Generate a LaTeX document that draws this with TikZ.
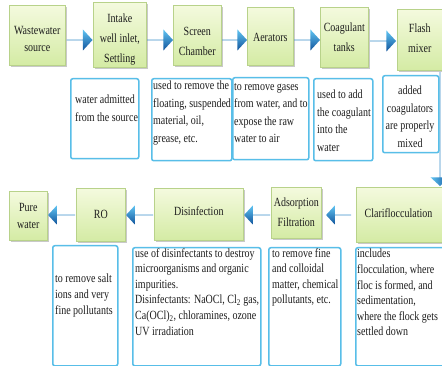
\documentclass[tikz,border=0pt]{standalone}
\usepackage{fontspec}
\setmainfont{Liberation Serif}[FakeStretch=0.8]
\usetikzlibrary{shapes.arrows,shadows}

\definecolor{stagefillA}{RGB}{244,250,222}
\definecolor{stagefillB}{RGB}{212,235,164}
\definecolor{stageline}{RGB}{184,210,138}
\definecolor{notebord}{RGB}{88,190,232}
\definecolor{arrowA}{RGB}{96,196,242}
\definecolor{arrowB}{RGB}{18,84,156}
\definecolor{ink}{RGB}{30,30,30}

\begin{document}
\begin{tikzpicture}[x=1pt,y=-1pt,
  stage/.style={draw=stageline, line width=0.6pt, top color=stagefillA, bottom color=stagefillB,
    drop shadow={shadow xshift=1.2pt, shadow yshift=-1.6pt, opacity=0.35, fill=black!60},
    anchor=north west, inner sep=0pt},
  stagetext/.style={anchor=north, inner sep=0pt, align=center, text=ink,
    font=\fontsize{12.5}{20}\selectfont},
  shortlines/.style={font=\fontsize{12.5}{17}\selectfont},
  note/.style={draw=notebord, line width=1.5pt, rounded corners=2pt, fill=white,
    anchor=north west, inner sep=0pt},
  notetext/.style={anchor=north west, inner sep=0pt, align=left, text=ink},
  toptext/.style={notetext, font=\fontsize{12.5}{17.5}\selectfont},
  bottext/.style={notetext, font=\fontsize{12.5}{15.6}\selectfont},
  flowarrow/.style={single arrow, draw=none, inner sep=0pt, minimum width=21pt,
    single arrow head extend=4.5pt, single arrow tip angle=95,
    top color=arrowA, bottom color=arrowB},
  backarrow/.style={flowarrow, minimum width=19pt, single arrow head extend=4pt,
    shape border rotate=180}
]
\clip (0,0) rectangle (442,366);
\fill[white] (0,0) rectangle (442,366);

% ---- upper treatment line ----
\node[stage, minimum width=56pt, minimum height=60pt] (ws) at (9,5) {};
\node[stagetext, shortlines] (wst) at (ws.north |- 0,26) {Wastewater\\source};
\node[stage, minimum width=53pt, minimum height=65pt] (intake) at (93,2) {};
\node[stagetext] (intaket) at (intake.north |- 0,14) {Intake\\well inlet,\\Settling};
\node[stage, minimum width=48pt, minimum height=60pt] (screen) at (173,5) {};
\node[stagetext] (screent) at (screen.north |- 0,27) {Screen\\Chamber};
\node[stage, minimum width=46pt, minimum height=58pt] (aer) at (247,7) {};
\node[stagetext] (aert) at (aer.north |- 0,33) {Aerators};
\node[stage, minimum width=48pt, minimum height=60pt] (coag) at (320,7) {};
\node[stagetext] (coagt) at (coag.north |- 0,23) {Coagulant\\tanks};
\node[stage, minimum width=45pt, minimum height=61pt] (flash) at (397,9) {};
\node[stagetext] (flasht) at (flash.north |- 0,24) {Flash\\mixer};

\path (ws.east |- 0,40) -- (intake.west |- 0,40) node[midway, flowarrow, minimum height=26pt] (a1) {};
\path (intake.east |- 0,40) -- (screen.west |- 0,40) node[midway, flowarrow, minimum height=26pt] (a2) {};
\path (screen.east |- 0,40) -- (aer.west |- 0,40) node[midway, flowarrow, minimum height=25pt] (a3) {};
\path (aer.east |- 0,40) -- (coag.west |- 0,40) node[midway, flowarrow, minimum height=26pt] (a4) {};
\path (coag.east |- 0,41) -- (flash.west |- 0,41) node[midway, flowarrow, minimum height=26pt] (a5) {};

% ---- lower treatment line ----
\node[stage, minimum width=38pt, minimum height=49pt] (pure) at (9,191) {};
\node[stagetext, shortlines] (puret) at (pure.north |- 0,203) {Pure\\water};
\node[stage, minimum width=49pt, minimum height=53pt] (ro) at (76,188) {};
\node[stagetext] (rot) at (ro.north |- 0,210) {RO};
\node[stage, minimum width=89pt, minimum height=52pt] (dis) at (154,188) {};
\node[stagetext] (dist) at (dis.north |- 0,206) {Disinfection};
\node[stage, minimum width=50pt, minimum height=51pt] (ads) at (271,187) {};
\node[stagetext] (adst) at (ads.north |- 0,198) {Adsorption\\Filtration};
\node[stage, minimum width=90pt, minimum height=55pt] (clar) at (356,187) {};
\node[stagetext] (clart) at (398.5,208) {Clariflocculation};

\path (flash.south -| 440,0) -- (clar.north -| 440,0)
  node[midway, flowarrow, shape border rotate=270, minimum height=114pt,
       minimum width=19pt, single arrow head extend=4pt,
       left color=arrowA, right color=arrowB] (a6) {};

\path (clar.west |- 0,215) -- (ads.east |- 0,215) node[midway, backarrow, minimum height=25pt] (a7) {};
\path (ads.west |- 0,215) -- (dis.east |- 0,215) node[midway, backarrow, minimum height=26pt] (a8) {};
\path (dis.west |- 0,215) -- (ro.east |- 0,215) node[midway, backarrow, minimum height=27pt] (a9) {};
\path (ro.west |- 0,215) -- (pure.east |- 0,215) node[midway, backarrow, minimum height=27pt] (a10) {};

% ---- notes for the upper line ----
\node[note, minimum width=68pt, minimum height=80pt] (n1) at (70,78) {};
\node[toptext] (t1) at (75,95) {water admitted\\from the source};
\node[note, minimum width=80pt, minimum height=82pt] (n2) at (151,78) {};
\node[toptext] (t2) at (153,81) {used to remove the\\floating, suspended\\material, oil,\\grease, etc.};
\node[note, minimum width=76pt, minimum height=82pt] (n3) at (232,77) {};
\node[toptext] (t3) at (234,83) {to remove gases\\from water, and to\\expose the raw\\water to air};
\node[note, minimum width=59pt, minimum height=82pt] (n4) at (313,78) {};
\node[toptext] (t4) at (317,90) {used to add\\the coagulant\\into the\\water};
\node[note, minimum width=56pt, minimum height=77pt] (n5) at (382,75) {};
\node[toptext, anchor=north, align=center] (t5) at (410,86) {added\\coagulators\\are properly\\mixed};

% ---- notes for the lower line ----
\node[note, minimum width=65pt, minimum height=120pt] (m1) at (52,245) {};
\node[bottext] (s1) at (55,274) {to remove salt\\ions and very\\fine pollutants};
\node[note, minimum width=128pt, minimum height=118pt] (m2) at (132,247) {};
\node[bottext] (s2) at (135,248) {use of disinfectants to destroy\\microorganisms and organic\\impurities.\\Disinfectants: NaOCl, Cl\textsubscript{2} gas,\\Ca(OCl)\textsubscript{2}, chloramines, ozone\\UV irradiation};
\node[note, minimum width=72pt, minimum height=118pt] (m3) at (268,247) {};
\node[bottext] (s3) at (272,248) {to remove fine\\and colloidal\\matter, chemical\\pollutants, etc.};
\node[note, minimum width=95pt, minimum height=118pt] (m4) at (355,247) {};
\node[bottext] (s4) at (357,249) {includes\\flocculation, where\\floc is formed, and\\sedimentation,\\where the flock gets\\settled down};
\end{tikzpicture}
\end{document}
